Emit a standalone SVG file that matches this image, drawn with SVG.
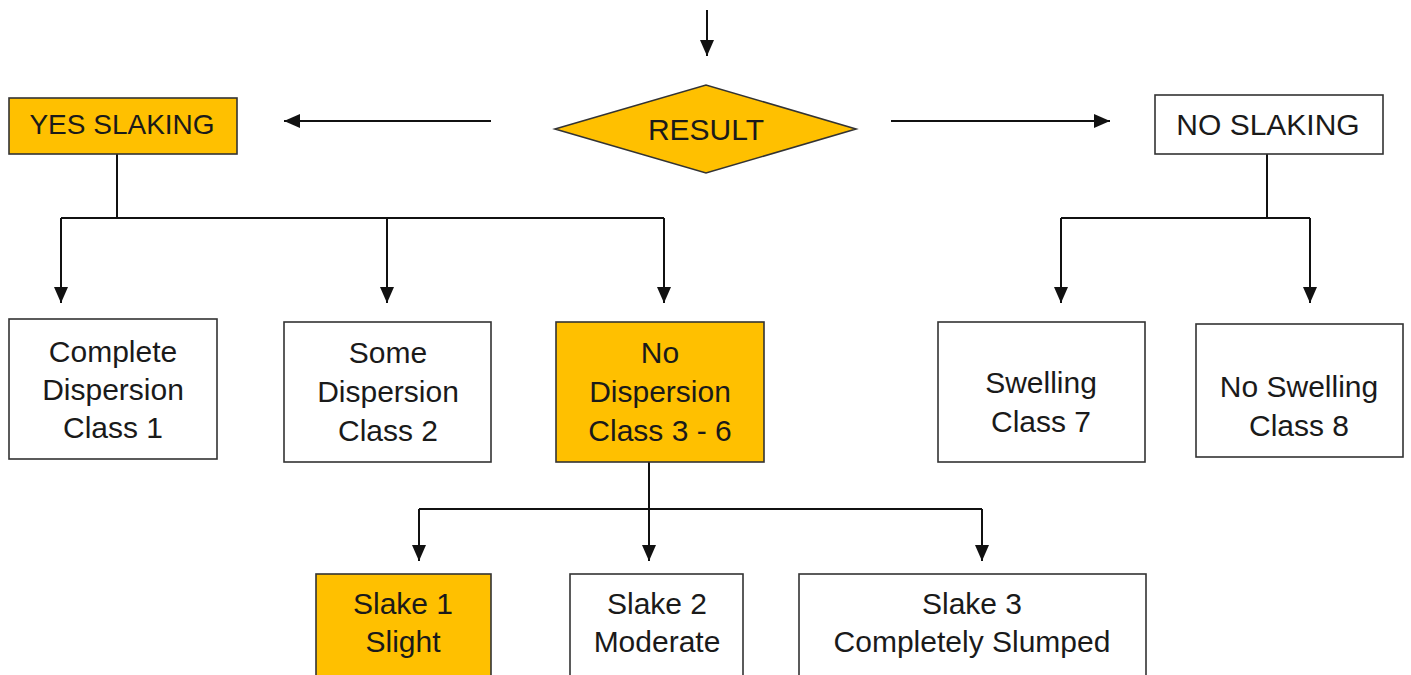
<svg xmlns="http://www.w3.org/2000/svg" width="1411" height="675" viewBox="0 0 1411 675">
<style>
.box{fill:#ffffff;stroke:#333333;stroke-width:1.6}
.hl{fill:#FFC000;stroke:#333333;stroke-width:1.6}
.t{font-family:"Liberation Sans",Arial,sans-serif;font-size:30px;fill:#1a1a1a;text-anchor:middle}
.s{font-size:28px}
.c{fill:none;stroke:#111111;stroke-width:2}
.ca{fill:none;stroke:#111111;stroke-width:2;marker-end:url(#ah)}
</style>
<defs>
<marker id="ah" viewBox="0 0 16 14" refX="16" refY="7" markerWidth="16" markerHeight="14" markerUnits="userSpaceOnUse" orient="auto">
<path d="M0,0 L16,7 L0,14 Z" fill="#111111"/>
</marker>
</defs>
<g id="connectors">
<line class="ca" x1="707" y1="10" x2="707" y2="56"/>
<line class="ca" x1="491" y1="121" x2="284" y2="121"/>
<line class="ca" x1="891" y1="121" x2="1110" y2="121"/>
<polyline class="c" points="117,154 117,218"/>
<line class="c" x1="61" y1="218" x2="664" y2="218"/>
<line class="ca" x1="61" y1="218" x2="61" y2="303"/>
<line class="ca" x1="387" y1="218" x2="387" y2="303"/>
<line class="ca" x1="664" y1="218" x2="664" y2="303"/>
<polyline class="c" points="1267,154 1267,218"/>
<line class="c" x1="1061" y1="218" x2="1310" y2="218"/>
<line class="ca" x1="1061" y1="218" x2="1061" y2="303"/>
<line class="ca" x1="1310" y1="218" x2="1310" y2="303"/>
<line class="ca" x1="649" y1="462" x2="649" y2="561"/>
<line class="c" x1="419" y1="509" x2="982" y2="509"/>
<line class="ca" x1="419" y1="509" x2="419" y2="561"/>
<line class="ca" x1="982" y1="509" x2="982" y2="561"/>
</g>
<g id="result">
<polygon class="hl" points="555,129 706,85 856,129 706,173"/>
<text class="t" x="706" y="140">RESULT</text>
</g>
<g id="yes-slaking">
<rect class="hl" x="9" y="98" width="228" height="56"/>
<text class="t s" x="122" y="134">YES SLAKING</text>
</g>
<g id="no-slaking">
<rect class="box" x="1155" y="95" width="228" height="59"/>
<text class="t" x="1268" y="135">NO SLAKING</text>
</g>
<g id="class1">
<rect class="box" x="9" y="319" width="208" height="140"/>
<text class="t" x="113" y="362">Complete</text>
<text class="t" x="113" y="400">Dispersion</text>
<text class="t" x="113" y="438">Class 1</text>
</g>
<g id="class2">
<rect class="box" x="284" y="322" width="207" height="140"/>
<text class="t" x="388" y="363">Some</text>
<text class="t" x="388" y="402">Dispersion</text>
<text class="t" x="388" y="441">Class 2</text>
</g>
<g id="class3-6">
<rect class="hl" x="556" y="322" width="208" height="140"/>
<text class="t" x="660" y="363">No</text>
<text class="t" x="660" y="402">Dispersion</text>
<text class="t" x="660" y="441">Class 3 - 6</text>
</g>
<g id="class7">
<rect class="box" x="938" y="322" width="207" height="140"/>
<text class="t" x="1041" y="393">Swelling</text>
<text class="t" x="1041" y="432">Class 7</text>
</g>
<g id="class8">
<rect class="box" x="1196" y="324" width="207" height="133"/>
<text class="t" x="1299" y="397">No Swelling</text>
<text class="t" x="1299" y="436">Class 8</text>
</g>
<g id="slake1">
<rect class="hl" x="316" y="574" width="175" height="110"/>
<text class="t" x="403" y="614">Slake 1</text>
<text class="t" x="403" y="652">Slight</text>
</g>
<g id="slake2">
<rect class="box" x="570" y="574" width="173" height="110"/>
<text class="t" x="657" y="614">Slake 2</text>
<text class="t" x="657" y="652">Moderate</text>
</g>
<g id="slake3">
<rect class="box" x="799" y="574" width="347" height="110"/>
<text class="t" x="972" y="614">Slake 3</text>
<text class="t" x="972" y="652">Completely Slumped</text>
</g>
</svg>
